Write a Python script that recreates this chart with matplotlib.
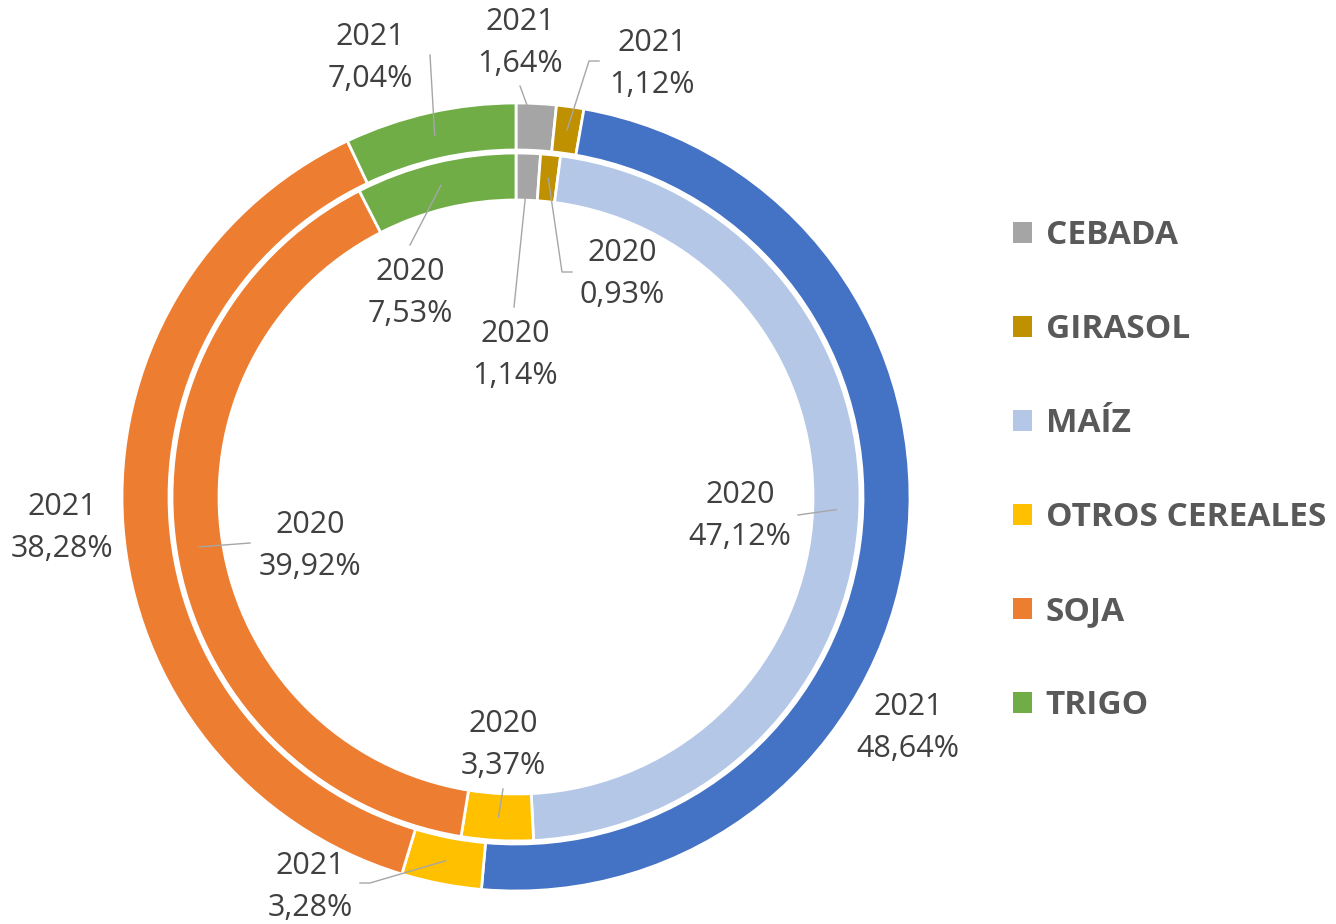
import numpy as np
import matplotlib.pyplot as plt
from matplotlib.patches import Patch

plt.rcParams['font.family'] = ['Open Sans', 'DejaVu Sans']

categorias = ["CEBADA", "GIRASOL", "MAÍZ", "OTROS CEREALES", "SOJA", "TRIGO"]
v2021 = [1.64, 1.12, 48.64, 3.28, 38.28, 7.04]
v2020 = [1.14, 0.93, 47.12, 3.37, 39.92, 7.53]

col2021 = ["#A5A5A5", "#BF9000", "#4472C4", "#FFC000", "#ED7D31", "#70AD47"]
col2020 = ["#A5A5A5", "#BF9000", "#B4C7E7", "#FFC000", "#ED7D31", "#70AD47"]

W, H = 1336, 924
cx, cy = 516, H - 497
r_out, r_in, ancho = 394, 344, 47

# posiciones de etiquetas (pixeles de imagen) y puntos de la linea guia
lab2021 = [((520, 43), [(520, 86)]),
           ((652, 64), [(599, 61), (589, 61)]),
           ((908, 728), None),
           ((310, 887), [(360, 883), (370, 883)]),
           ((62, 528), None),
           ((370, 58), [(430, 55)])]
lab2020 = [((515, 355), [(514, 307)]),
           ((622, 274), [(572, 272), (562, 272)]),
           ((740, 516), [(798, 515)]),
           ((503, 745), [(503, 789)]),
           ((310, 546), [(250, 543)]),
           ((410, 293), [(410, 245)])]

fig = plt.figure(figsize=(W / 100, H / 100), dpi=100)
ax = fig.add_axes([0, 0, 1, 1])

w_out, _ = ax.pie(v2021, colors=col2021, radius=r_out, center=(cx, cy),
                  startangle=90, counterclock=False, frame=True,
                  wedgeprops=dict(width=ancho, edgecolor="white", linewidth=2))
w_in, _ = ax.pie(v2020, colors=col2020, radius=r_in, center=(cx, cy),
                 startangle=90, counterclock=False, frame=True,
                 wedgeprops=dict(width=ancho, edgecolor="white", linewidth=2))
ax.set_xlim(0, W)
ax.set_ylim(0, H)
ax.set_aspect("equal")
ax.axis("off")


def etiquetar(valores, anio, radio, etiquetas):
    total = sum(valores)
    acum = 0
    for v, ((tx, ty), guia) in zip(valores, etiquetas):
        medio = acum + v / 2
        acum += v
        ang = np.deg2rad(90 - medio / total * 360)
        rm = radio - ancho / 2
        axp, ayp = cx + rm * np.cos(ang), cy + rm * np.sin(ang)
        if guia:
            xs = [p[0] for p in guia] + [axp]
            ys = [H - p[1] for p in guia] + [ayp]
            ax.plot(xs, ys, color="#A6A6A6", lw=1, zorder=5)
        txt = f"{anio}\n{v:.2f}%".replace(".", ",")
        ax.text(tx, H - ty, txt, ha="center", va="center", fontsize=22,
                color="#404040", linespacing=1.52, zorder=6)


etiquetar(v2021, 2021, r_out, lab2021)
etiquetar(v2020, 2020, r_in, lab2020)

handles = [Patch(facecolor=c, edgecolor="none") for c in col2020]
leg = ax.legend(handles, categorias, loc="center left", bbox_to_anchor=(1013 / W, 1 - 471 / H),
                frameon=False, handlelength=0.58, handleheight=0.58, handletextpad=0.4,
                labelspacing=1.83, borderaxespad=0, borderpad=0,
                prop=dict(family="Open Sans", weight="bold", size=24))
for t in leg.get_texts():
    t.set_color("#595959")

fig.savefig("out.png", dpi=100)
